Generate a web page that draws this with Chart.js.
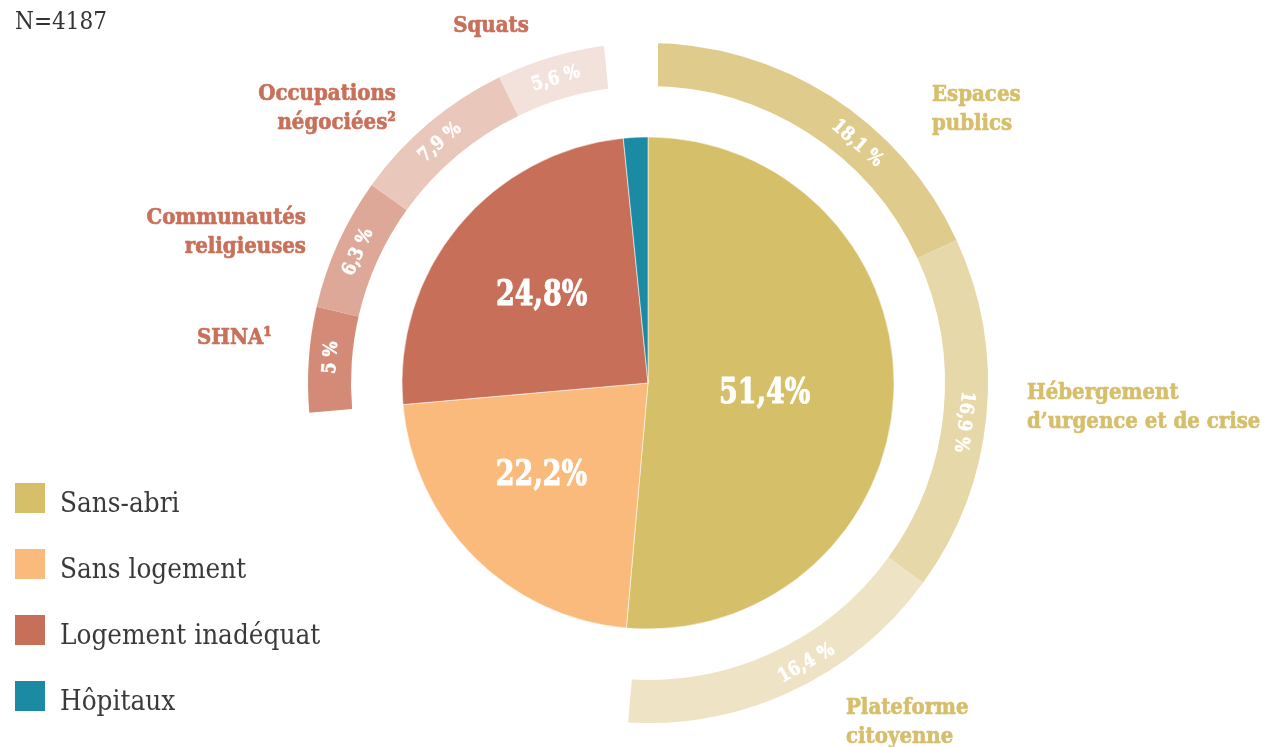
<!DOCTYPE html>
<html><head><meta charset="utf-8">
<script src="https://cdn.jsdelivr.net/npm/chart.js@4.4.0/dist/chart.umd.min.js"></script>
<style>html,body{margin:0;padding:0;background:#fff;} #wrap{position:relative;width:1263px;height:747px;}</style>
</head><body><div id="wrap"><canvas id="c"></canvas></div>
<script>
// ---------- DATA ----------
const sampleSize = 'N=4187';
const categories = ['Sans-abri', 'Sans logement', 'Logement inadéquat', 'Hôpitaux'];
const categoryValues = [51.4, 22.2, 24.8, 1.6];
const sansAbriLabels = [['Espaces', 'publics'], ['Hébergement', 'd’urgence et de crise'], ['Plateforme', 'citoyenne']];
const sansAbriValues = [18.1, 16.9, 16.4];
const inadequatLabels = [['SHNA¹'], ['Communautés', 'religieuses'], ['Occupations', 'négociées²'], ['Squats']];
const inadequatValues = [5, 6.3, 7.9, 5.6];

// ---------- STYLE ----------
const categoryColors = ['#d5bf69', '#f9ba7b', '#c76f59', '#1b8ba3'];
const sansAbriColors = ['#dfcb8b', '#e6d8a9', '#eee4c5'];
const inadequatColors = ['#d38b77', '#dea898', '#e9c7bb', '#f3e1db'];
const goldText = '#d6be6b';
const redText = '#c8705a';
const GAP = 'rgba(0,0,0,0)';

// ring built from the sub-category arrays, with gaps for the other categories
const ringData = [...sansAbriValues, categoryValues[1], ...inadequatValues, categoryValues[3]];
const ringColors = [...sansAbriColors, GAP, ...inadequatColors, GAP];
const ringNames = [...sansAbriLabels, null, ...inadequatLabels, null];
const ringNameColors = [...sansAbriLabels.map(() => goldText), null, ...inadequatLabels.map(() => redText), null];
const ringShow = [...sansAbriValues.map(() => true), false, ...inadequatValues.map(() => true), false];
const ringBorder = ringShow.map(s => (s ? 0 : 20));

const fmt = (v, sp) => String(v).replace('.', ',') + (sp ? ' %' : '%');

function drawText(ctx, text, x, y, align, font, color, sx, heavy) {
  ctx.save();
  ctx.translate(x, y);
  ctx.scale(sx, 1);
  ctx.font = font;
  ctx.fillStyle = color;
  ctx.textAlign = align;
  ctx.textBaseline = 'alphabetic';
  ctx.fillText(text, 0, 0);
  if (heavy) {
    ctx.strokeStyle = color;
    ctx.lineWidth = heavy;
    ctx.lineJoin = 'round';
    ctx.strokeText(text, 0, 0);
  }
  ctx.restore();
}

const labelPlugin = {
  id: 'customLabels',
  afterDatasetsDraw(chart, args, o) {
    const ctx = chart.ctx;
    const ringMeta = chart.getDatasetMeta(0);
    ringMeta.data.forEach((arc, i) => {
      if (!ringShow[i]) return;
      const p = arc.getProps(['x', 'y', 'startAngle', 'endAngle'], true);
      const a = (p.startAngle + p.endAngle) / 2 + o.ringShift[i] * Math.PI / 180;
      const px = p.x + o.ringTextRadius * Math.cos(a);
      const py = p.y + o.ringTextRadius * Math.sin(a);
      let rot = a + Math.PI / 2;
      if (Math.cos(rot) < -0.5) rot += Math.PI;
      ctx.save();
      ctx.translate(px, py);
      ctx.rotate(rot);
      drawText(ctx, fmt(ringData[i], true), 0, 7, 'center', 'bold 19px "DejaVu Serif"', '#ffffff', 0.86, 0.6);
      ctx.restore();
      const an = o.nameAnchors[i];
      if (an && ringNames[i]) {
        ringNames[i].forEach((line, k) => {
          drawText(ctx, line, an.x, an.y + k * 28.5, an.align, 'bold 23px "DejaVu Serif"', ringNameColors[i], 0.86, 0.7);
        });
      }
    });
    const pieMeta = chart.getDatasetMeta(2);
    pieMeta.data.forEach((arc, i) => {
      if (!o.pieRadius[i]) return;
      const p = arc.getProps(['x', 'y', 'startAngle', 'endAngle'], true);
      const a = (p.startAngle + p.endAngle) / 2 + o.pieShift[i] * Math.PI / 180;
      const px = p.x + o.pieRadius[i] * Math.cos(a);
      const py = p.y + o.pieRadius[i] * Math.sin(a);
      drawText(ctx, fmt(categoryValues[i], false), px, py + 13, 'center', 'bold 36px "DejaVu Serif"', '#ffffff', 0.75, 1);
    });
  },
  afterDraw(chart) {
    const ctx = chart.ctx;
    drawText(ctx, sampleSize, 15, 29, 'left', 'normal 24px "DejaVu Serif"', '#333333', 0.9, 0);
    categories.forEach((c, i) => {
      const top = 483 + i * 66;
      ctx.fillStyle = categoryColors[i];
      ctx.fillRect(15, top, 30, 30);
      drawText(ctx, c, 60, top + 29, 'left', 'normal 27px "DejaVu Serif"', '#3a3a3a', 0.92, 0);
    });
  }
};

new Chart(document.getElementById('c'), {
  type: 'doughnut',
  data: {
    labels: ringData.map((_, i) => String(i)),
    datasets: [
      { data: ringData, backgroundColor: ringColors, borderColor: '#ffffff', borderWidth: ringBorder, weight: 43 },
      { data: [1], backgroundColor: [GAP], borderWidth: 0, weight: 51 },
      { data: categoryValues, backgroundColor: categoryColors, borderWidth: 1, borderColor: 'rgba(255,255,255,0.55)', weight: 246 }
    ]
  },
  options: {
    responsive: true,
    maintainAspectRatio: false,
    animation: false,
    events: [],
    cutout: 0,
    radius: 340,
    rotation: 0,
    layout: { padding: { left: 33, right: 0, top: 19, bottom: 0 } },
    plugins: {
      legend: { display: false },
      tooltip: { enabled: false },
      customLabels: {
        ringTextRadius: 320,
        ringShift: [8.5, 1.4, -5, 0, 0.6, 0, -0.7, -1, 0],
        nameAnchors: [
          { x: 932, y: 101, align: 'left' },
          { x: 1027, y: 399, align: 'left' },
          { x: 846, y: 714, align: 'left' },
          null,
          { x: 272, y: 344, align: 'right' },
          { x: 306, y: 224, align: 'right' },
          { x: 396, y: 100, align: 'right' },
          { x: 491, y: 32, align: 'center' },
          null
        ],
        pieRadius: [117, 139, 140, 0],
        pieShift: [1, 5, 1, 0]
      }
    }
  },
  plugins: [labelPlugin]
});
</script>
</body></html>
